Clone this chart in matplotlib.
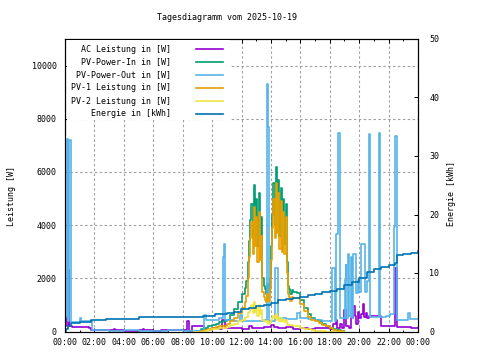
import matplotlib
matplotlib.use("Agg")
from matplotlib import pyplot as plt
from matplotlib.ticker import FixedLocator, MultipleLocator
from matplotlib.patches import Rectangle

# Daily chart of inverter power and energy
title = "Tagesdiagramm vom 2025-10-19"

x_ticks = [0, 2, 4, 6, 8, 10, 12, 14, 16, 18, 20, 22, 24]
x_labels = ["00:00", "02:00", "04:00", "06:00", "08:00", "10:00", "12:00",
            "14:00", "16:00", "18:00", "20:00", "22:00", "00:00"]
y_ticks = [0, 2000, 4000, 6000, 8000, 10000]
y2_ticks = [0, 10, 20, 30, 40, 50]

# AC Leistung [W]
t_ac = [0.0, 0.15, 0.25, 0.3, 0.45, 1.0, 1.6, 1.8, 2.5, 3.0, 3.3, 3.4, 4.0, 5.0,
        5.3, 5.4, 6.0, 6.5, 7.0, 7.5, 8.0, 8.3, 8.4, 8.65, 9.45, 10.0, 10.5,
        10.7, 10.9, 11.5, 12.0, 12.5, 12.7, 13.0, 13.5, 14.0, 14.2, 14.5, 15.0,
        15.5, 16.0, 16.5, 17.0, 17.5, 18.0, 18.2, 18.4, 18.5, 18.7, 18.8, 19.0,
        19.1, 19.3, 19.45, 19.6, 19.7, 19.8, 19.9, 20.0, 20.1, 20.25, 20.35,
        20.45, 20.55, 20.7, 21.0, 21.4, 21.5, 22.0, 22.45, 22.55, 23.0, 23.5, 24.0]
p_ac = [560, 190, 2300, 190, 180, 170, 150, 50, 60, 40, 90, 40, 30, 40,
        90, 40, 30, 60, 40, 70, 40, 380, 30, 210, 60, 120, 90,
        440, 120, 120, 90, 200, 150, 130, 170, 250, 180, 120, 160,
        110, 150, 100, 120, 150, 100, 300, 450, 150, 300, 130, 800,
        200, 150, 500, 950, 600, 300, 750, 500, 650, 1050, 550,
        700, 500, 600, 590, 580, 200, 190, 2380, 170, 180, 150, 150]

# PV-Power-Out [W]
t_out = [0.0, 0.12, 0.18, 0.27, 0.43, 0.9, 1.0, 1.1, 1.85, 3.0, 4.0, 5.0, 6.0,
         7.0, 8.0, 9.0, 9.45, 9.6, 10.0, 10.5, 10.72, 10.78, 10.9, 11.5, 11.9,
         12.0, 12.5, 13.0, 13.5, 13.7, 13.82, 13.9, 14.3, 14.45, 15.0, 15.8,
         16.0, 16.5, 17.0, 17.5, 18.0, 18.18, 18.34, 18.45, 18.56, 18.68, 19.02,
         19.08, 19.13, 19.25, 19.33, 19.42, 19.5, 19.6, 19.8, 19.9, 20.0, 20.15,
         20.38, 20.5, 20.66, 20.72, 21.36, 21.4, 21.45, 21.8, 22.1, 22.36, 22.42,
         22.58, 23.0, 23.3, 23.45, 24.0]
p_out = [560, 7250, 400, 7200, 350, 350, 500, 380, 60, 30, 40, 20, 30,
         40, 30, 20, 620, 450, 450, 500, 2800, 3300, 420, 400, 620,
         400, 380, 400, 420, 9300, 7700, 400, 2400, 500, 480, 700,
         500, 480, 420, 380, 380, 2380, 380, 3680, 7480, 500, 1930,
         2490, 500, 2900, 600, 2800, 500, 2900, 1440, 1930, 1500, 3280,
         1500, 1900, 7420, 550, 7480, 3700, 560, 600, 650, 3930, 7350,
         450, 450, 700, 480, 480]

# PV-Power-In, PV-1 and PV-2 [W]
t_pv = [8.75, 9.0, 9.25, 9.5, 9.75, 10.0, 10.25, 10.5, 10.75, 11.0, 11.25, 11.5,
        11.75, 12.0, 12.25, 12.33, 12.42, 12.5, 12.58, 12.67, 12.75, 12.83,
        12.92, 13.0, 13.08, 13.17, 13.25, 13.33, 13.42, 13.5, 13.58, 13.67,
        13.75, 13.83, 13.92, 14.0, 14.08, 14.17, 14.25, 14.33, 14.42, 14.5,
        14.58, 14.67, 14.75, 14.83, 14.92, 15.0, 15.08, 15.17, 15.25, 15.33,
        15.42, 15.5, 15.75, 16.0, 16.25, 16.5, 16.75, 17.0, 17.25, 17.5, 17.75,
        18.0, 18.25, 18.5, 18.75, 19.0]
p_in = [0, 30, 80, 130, 200, 260, 300, 340, 380, 450, 620, 850,
        1100, 1400, 1650, 1900, 2600, 3400, 4200, 4800, 3500, 5500,
        3800, 5000, 3200, 5200, 3300, 4300, 2000, 1700, 1600, 1400,
        1800, 1500, 2000, 3200, 4400, 5600, 4000, 6200, 4200, 5700,
        3600, 5400, 3500, 5000, 3300, 4800, 2600, 1700, 1600, 1400,
        1550, 1500, 1450, 1200, 900, 650, 520, 450, 380, 300, 220,
        140, 80, 40, 10, 0]
p_pv1 = [0, 0, 30, 60, 100, 140, 170, 190, 220, 270, 380, 520,
         700, 900, 1100, 1350, 2000, 2800, 3500, 4100, 2900, 4700,
         3200, 4300, 2600, 4500, 2700, 3600, 1500, 1300, 1200, 1100,
         1400, 1150, 1600, 2700, 3900, 5000, 3500, 5600, 3700, 5200,
         3100, 4900, 3000, 4500, 2900, 4300, 2200, 1400, 1300, 1150,
         1300, 1250, 1250, 1050, 780, 560, 450, 390, 330, 260, 190,
         120, 70, 30, 10, 0]
p_pv2 = [0, 0, 0, 20, 50, 80, 100, 130, 150, 180, 230, 300,
         380, 450, 520, 550, 700, 750, 850, 1000, 700, 1100,
         750, 900, 600, 1000, 650, 800, 450, 400, 380, 350,
         380, 300, 350, 450, 500, 600, 500, 650, 450, 550,
         400, 500, 380, 450, 350, 420, 300, 250, 250, 230,
         240, 220, 200, 150, 110, 80, 50, 30, 20, 10, 0,
         0, 0, 0, 0, 0]

# Energie [kWh]
t_en = [0.0, 0.1, 0.2, 0.4, 1.0, 1.8, 2.8, 5.0, 7.4, 9.4, 10.2, 10.5, 11.0, 11.5,
        12.0, 12.5, 13.0, 13.5, 14.0, 14.5, 15.0, 15.5, 16.0, 16.5, 17.0, 17.5,
        18.0, 18.5, 19.0, 19.5, 20.0, 20.5, 21.0, 21.5, 22.0, 22.45, 22.55,
        23.0, 23.5, 24.0]
e_en = [0.0, 0.4, 1.0, 1.5, 1.7, 2.0, 2.1, 2.4, 2.55, 2.7, 2.95, 3.0, 3.2, 3.4,
        3.8, 4.0, 4.3, 4.6, 4.9, 5.3, 5.6, 5.8, 5.95, 6.2, 6.4, 6.7,
        7.0, 7.3, 7.9, 8.5, 9.1, 10.1, 10.7, 11.1, 11.4, 11.7, 13.0,
        13.2, 13.4, 13.7]

legend_labels = ["AC Leistung in [W]", "PV-Power-In in [W]", "PV-Power-Out in [W]",
                 "PV-1 Leistung in [W]", "PV-2 Leistung in [W]", "Energie in [kWh]"]
colors = ["#9400d3", "#009e73", "#56b4e9", "#e69f00", "#f0e442", "#0072b2"]

plt.rcParams['font.family'] = ['DejaVu Sans Mono']
plt.rcParams['font.size'] = 6

L, R, T, B = 65, 418, 39, 331.5   # plot frame in pixels
fig = plt.figure(figsize=(4.8, 3.6), dpi=100)
ax = fig.add_axes([L / 480, 1 - B / 360, (R - L) / 480, (B - T) / 360])
ax2 = ax.twinx()

lw = 1.2
ax.plot(t_ac, p_ac, color=colors[0], lw=lw, drawstyle='steps-post')
ax.plot(t_pv, p_in, color=colors[1], lw=lw, drawstyle='steps-post')
ax.plot(t_out, p_out, color=colors[2], lw=lw, drawstyle='steps-post')
ax.plot(t_pv, p_pv1, color=colors[3], lw=lw, drawstyle='steps-post')
ax.plot(t_pv, p_pv2, color=colors[4], lw=lw, drawstyle='steps-post')
ax2.plot(t_en, e_en, color=colors[5], lw=lw, drawstyle='steps-post')

ax.set_xlim(0, 24)
ax.set_ylim(0, 11000)
ax2.set_ylim(0, 50)

ax.xaxis.set_major_locator(FixedLocator(x_ticks))
ax.set_xticklabels(x_labels)
ax.xaxis.set_minor_locator(MultipleLocator(1))
ax.yaxis.set_major_locator(FixedLocator(y_ticks))
ax2.yaxis.set_major_locator(FixedLocator(y2_ticks))

ax.grid(True, which='major', color='#a0a0a0', lw=0.8, linestyle=(0, (2.2, 2.2)))
ax.tick_params(axis='x', which='major', direction='in', length=3, width=0.7,
               top=True, pad=5)
ax.tick_params(axis='x', which='minor', direction='in', length=1.5, width=0.7,
               top=True)
ax.tick_params(axis='y', direction='in', length=3, width=0.7, pad=6)
ax2.tick_params(axis='y', direction='in', length=3, width=0.7, pad=8)
for a in (ax, ax2):
    for s in a.spines.values():
        s.set_linewidth(0.8)

fig.text(227 / 480, 1 - 18 / 360, title, ha='center', va='center')
fig.text(12 / 480, 1 - 196 / 360, "Leistung [W]", rotation=90, ha='center', va='center')
fig.text(452 / 480, 1 - 194 / 360, "Energie [kWh]", rotation=90, ha='center', va='center')

# key, drawn by hand so the texts are right aligned like gnuplot does it
def px(x, y):
    return (x - L) / (R - L), (B - y) / (B - T)

x0, y0 = px(L + 1.5, 120)
x1, y1 = px(230, T + 1.5)
ax2.add_patch(Rectangle((x0, y0), x1 - x0, y1 - y0, transform=ax2.transAxes,
                        facecolor='white', edgecolor='none', zorder=5))
for i, (lab, col) in enumerate(zip(legend_labels, colors)):
    yy = 49 + i * 13
    tx, ty = px(171, yy)
    ax2.text(tx, ty, lab, transform=ax2.transAxes, ha='right', va='center', zorder=6)
    lx0, ly = px(196, yy)
    lx1, _ = px(223, yy)
    ax2.plot([lx0, lx1], [ly, ly], transform=ax2.transAxes, color=col, lw=lw, zorder=6)

fig.savefig("out.png", dpi=100)
